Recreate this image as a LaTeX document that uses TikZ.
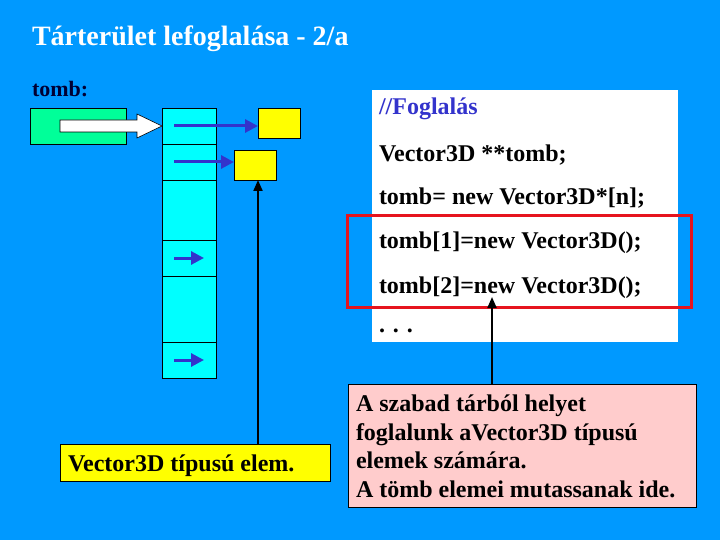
\documentclass[tikz,border=0pt]{standalone}
\usepackage{fontspec}
\setmainfont{Liberation Serif}
\usetikzlibrary{arrows.meta}

\definecolor{bgblue}{RGB}{0,153,255}
\definecolor{cellcyan}{RGB}{0,255,255}
\definecolor{tombgreen}{RGB}{0,255,153}
\definecolor{elemyellow}{RGB}{255,255,0}
\definecolor{notepink}{RGB}{255,204,204}
\definecolor{ptrblue}{RGB}{51,51,204}
\definecolor{navy}{RGB}{0,0,51}
\definecolor{framered}{RGB}{230,20,30}

\tikzset{
  box/.style={draw=black, line width=0.8pt, inner sep=0pt, outer sep=0pt, anchor=north west},
  cell/.style={box, fill=cellcyan, minimum width=54pt},
  elem/.style={box, fill=elemyellow, minimum width=42pt, minimum height=30pt},
  txt/.style={anchor=base west, inner sep=0pt, outer sep=0pt, font=\fontsize{24}{24}\selectfont\bfseries},
  ptr/.style={draw=ptrblue, line width=3pt, -{Triangle[length=13pt,width=13pt]}},
  callout/.style={draw=black, line width=2pt, -{Triangle[length=11pt,width=9pt]}},
}

\begin{document}
\begin{tikzpicture}[x=1pt, y=-1pt]
  % background
  \fill[bgblue] (0,0) rectangle (720,540);
  \useasboundingbox (0,0) rectangle (720,540);

  % title and variable name
  \node[txt, text=white, font=\fontsize{28}{28}\selectfont\bfseries] (title) at (32,46) {Tárterület lefoglalása - 2/a};
  \node[txt, text=navy, font=\fontsize{22}{22}\selectfont\bfseries] (tombname) at (32,97) {tomb:};

  % the pointer variable
  \node[box, fill=tombgreen, minimum width=96pt, minimum height=36pt] (var) at (30,108) {};

  % array of pointers
  \node[cell, minimum height=36pt] (c1) at (162,108) {};
  \node[cell, minimum height=36pt] (c2) at (162,144) {};
  \node[cell, minimum height=60pt] (c3) at (162,180) {};
  \node[cell, minimum height=36pt] (c4) at (162,240) {};
  \node[cell, minimum height=66pt] (c5) at (162,276) {};
  \node[cell, minimum height=36pt] (c6) at (162,342) {};

  % white block arrow from the variable to the array
  \draw[fill=white, draw=black, line width=0.6pt]
    (60,120) -- (137,120) -- (137,114) -- (c1.west) -- (137,138) -- (137,132) -- (60,132) -- cycle;

  % allocated objects
  \node[elem] (e1) at (258,108) {};
  \node[elem] (e2) at (234,150) {};

  % pointers stored in the array
  \draw[ptr] ([xshift=12pt]c1.west) -- (e1.west |- c1.west);
  \draw[ptr] ([xshift=12pt]c2.west) -- (e2.west |- c2.west);
  \draw[ptr] ([xshift=12pt]c4.west) -- ([xshift=42pt]c4.west);
  \draw[ptr] ([xshift=12pt]c6.west) -- ([xshift=42pt]c6.west);

  % element label
  \node[box, fill=elemyellow, minimum width=270pt, minimum height=37pt] (lab) at (60,444) {};
  \node[txt] (labtext) at (68,471) {Vector3D típusú elem.};
  \coordinate (labx) at (258,180);
  \draw[callout] (labx |- lab.north) -- (labx |- e2.south);

  % code listing
  \node[box, draw=none, fill=white, minimum width=306pt, minimum height=252pt] (code) at (372,90) {};
  \node[txt, text=ptrblue] (l0) at (379,115) {//Foglalás};
  \node[txt] (l1) at (379,162) {Vector3D **tomb;};
  \node[txt] (l2) at (379,205) {tomb= new Vector3D*[n];};
  \node[txt] (l3) at (379,248) {tomb[1]=new Vector3D();};
  \node[txt] (l4) at (379,293) {tomb[2]=new Vector3D();};
  \node[txt] (l5) at (379,332) {. . .};

  % highlighted allocation lines
  \node[box, draw=framered, line width=3pt, minimum width=344pt, minimum height=91pt] (sel) at (347,216) {};

  % explanatory note
  \node[box, fill=notepink, minimum width=348pt, minimum height=123pt] (note) at (348,384) {};
  \node[txt] (n1) at (356,411) {A szabad tárból helyet};
  \node[txt] (n2) at (356,440) {foglalunk aVector3D típusú};
  \node[txt] (n3) at (356,468) {elemek számára.};
  \node[txt] (n4) at (356,497) {A tömb elemei mutassanak ide.};
  \coordinate (notetip) at (492,297);
  \draw[callout] (notetip |- note.north) -- (notetip);
\end{tikzpicture}
\end{document}
